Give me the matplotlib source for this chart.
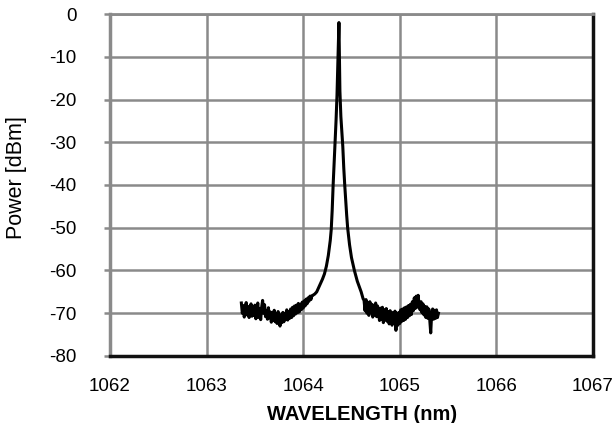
import matplotlib
matplotlib.use("Agg")
import matplotlib.pyplot as plt

plt.rcParams['font.family'] = ['Liberation Sans', 'DejaVu Sans']
plt.rcParams['axes.unicode_minus'] = False

# spectrum (wavelength nm, power dBm)
wl_left = [1063.36, 1063.37, 1063.38, 1063.39, 1063.40, 1063.41, 1063.42, 1063.43,
           1063.44, 1063.45, 1063.46, 1063.47, 1063.48, 1063.49, 1063.50, 1063.51,
           1063.52, 1063.53, 1063.54, 1063.55, 1063.56, 1063.57, 1063.58, 1063.59,
           1063.60, 1063.61, 1063.62, 1063.63, 1063.64, 1063.65, 1063.66, 1063.67,
           1063.68, 1063.69, 1063.70, 1063.71, 1063.72, 1063.73, 1063.74, 1063.75,
           1063.76, 1063.77, 1063.78, 1063.79, 1063.80, 1063.81, 1063.82, 1063.83,
           1063.84, 1063.85, 1063.86, 1063.87, 1063.88, 1063.89, 1063.90, 1063.91,
           1063.92, 1063.93, 1063.94, 1063.95, 1063.96, 1063.97, 1063.98, 1063.99,
           1064.00, 1064.01, 1064.02, 1064.03, 1064.04, 1064.05, 1064.06, 1064.07,
           1064.08, 1064.09]
p_left = [-67.6, -70.0, -68.2, -70.9, -69.0, -67.5, -70.4, -68.4,
          -71.0, -69.2, -67.8, -70.7, -68.5, -70.5, -68.1, -71.3,
          -69.3, -67.6, -71.0, -69.0, -71.5, -68.6, -67.0, -70.0,
          -68.0, -70.8, -69.5, -71.4, -68.7, -71.1, -69.7, -72.1,
          -69.9, -71.7, -69.3, -72.0, -70.1, -72.4, -69.6, -71.8,
          -73.0, -70.3, -72.2, -69.8, -72.0, -70.0, -71.5, -69.2,
          -71.6, -69.6, -71.2, -69.0, -71.0, -68.6, -70.6, -68.3,
          -70.2, -68.1, -69.9, -67.7, -69.7, -67.9, -69.2, -67.4,
          -68.8, -67.1, -68.3, -66.7, -67.8, -66.4, -67.2, -66.0,
          -66.8, -65.9]

wl_peak = [1064.10, 1064.12, 1064.14, 1064.16, 1064.18, 1064.20, 1064.22, 1064.24,
           1064.26, 1064.28, 1064.29, 1064.30, 1064.31, 1064.32, 1064.33, 1064.34,
           1064.35, 1064.36, 1064.37, 1064.38, 1064.39, 1064.40, 1064.41, 1064.42,
           1064.43, 1064.44, 1064.45, 1064.46, 1064.48, 1064.50, 1064.53, 1064.56,
           1064.60, 1064.62]
p_peak = [-65.8, -65.5, -65.0, -64.0, -63.0, -62.0, -60.8, -59.0,
          -56.5, -53.0, -50.5, -46.0, -40.0, -35.0, -30.0, -25.0,
          -19.0, -10.0, -2.0, -18.0, -24.0, -27.5, -31.0, -36.0,
          -40.0, -43.5, -47.0, -50.0, -54.0, -57.0, -60.0, -62.5,
          -65.0, -66.6]

wl_right = [1064.63, 1064.64, 1064.65, 1064.66, 1064.67, 1064.68, 1064.69, 1064.70,
            1064.71, 1064.72, 1064.73, 1064.74, 1064.75, 1064.76, 1064.77, 1064.78,
            1064.79, 1064.80, 1064.81, 1064.82, 1064.83, 1064.84, 1064.85, 1064.86,
            1064.87, 1064.88, 1064.89, 1064.90, 1064.91, 1064.92, 1064.93, 1064.94,
            1064.95, 1064.96, 1064.97, 1064.98, 1064.99, 1065.00, 1065.01, 1065.02,
            1065.03, 1065.04, 1065.05, 1065.06, 1065.07, 1065.08, 1065.09, 1065.10,
            1065.11, 1065.12, 1065.13, 1065.14, 1065.15, 1065.16, 1065.17, 1065.18,
            1065.19, 1065.20, 1065.21, 1065.22, 1065.23, 1065.24, 1065.25, 1065.26,
            1065.27, 1065.28, 1065.29, 1065.30, 1065.31, 1065.32, 1065.33, 1065.34,
            1065.35, 1065.36, 1065.37, 1065.38, 1065.39, 1065.40]
p_right = [-67.0, -69.4, -66.8, -70.0, -67.6, -70.5, -67.3, -69.8,
           -67.9, -70.9, -68.1, -70.4, -67.6, -70.8, -68.3, -70.2,
           -71.7, -68.8, -71.4, -68.6, -72.2, -69.2, -71.6, -68.9,
           -71.9, -69.6, -72.5, -69.4, -71.5, -72.8, -69.8, -72.3,
           -69.5, -74.0, -70.0, -72.8, -69.8, -72.4, -69.2, -71.9,
           -69.0, -71.7, -68.7, -71.4, -68.5, -71.0, -68.2, -70.6,
           -67.9, -70.3, -67.3, -69.4, -66.4, -68.9, -66.0, -68.6,
           -65.8, -68.2, -69.2, -67.3, -69.9, -67.8, -70.4, -68.4,
           -71.0, -68.5, -71.2, -69.0, -71.5, -74.6, -70.0, -69.0,
           -71.4, -69.3, -71.2, -69.2, -71.0, -70.0]

x_ticks = [1062, 1063, 1064, 1065, 1066, 1067]
y_ticks = [0, -10, -20, -30, -40, -50, -60, -70, -80]

wl = wl_left + wl_peak + wl_right
power = p_left + p_peak + p_right

fig = plt.figure(figsize=(6.13, 4.23), dpi=100)
ax = fig.add_axes([0.1794, 0.1584, 0.788, 0.8085])

ax.plot(wl, power, color="black", lw=2.2, zorder=3)

ax.set_xlim(1062, 1067)
ax.set_ylim(-80, 0)
ax.set_xticks(x_ticks)
ax.set_yticks(y_ticks)
ax.grid(True, color="#8a8a8a", lw=1.8, zorder=1)

grey = "#8a8a8a"
ax.spines['left'].set_color(grey)
ax.spines['left'].set_linewidth(2.5)
ax.spines['top'].set_color(grey)
ax.spines['top'].set_linewidth(2.0)
ax.spines['right'].set_color("#111111")
ax.spines['right'].set_linewidth(2.5)
ax.spines['bottom'].set_color("#111111")
ax.spines['bottom'].set_linewidth(2.5)

ax.tick_params(axis='y', length=4.5, width=1.8, color=grey, pad=19.5, labelsize=13.5)
ax.tick_params(axis='x', length=0, pad=16, labelsize=13.5)

ax.set_ylabel("Power [dBm]", fontsize=15.5)
ax.yaxis.set_label_coords(-0.172, 0.523)
ax.set_xlabel("WAVELENGTH (nm)", fontsize=14.5, fontweight="bold")
ax.xaxis.set_label_coords(0.522, -0.143)

fig.savefig("out.png", dpi=100)
